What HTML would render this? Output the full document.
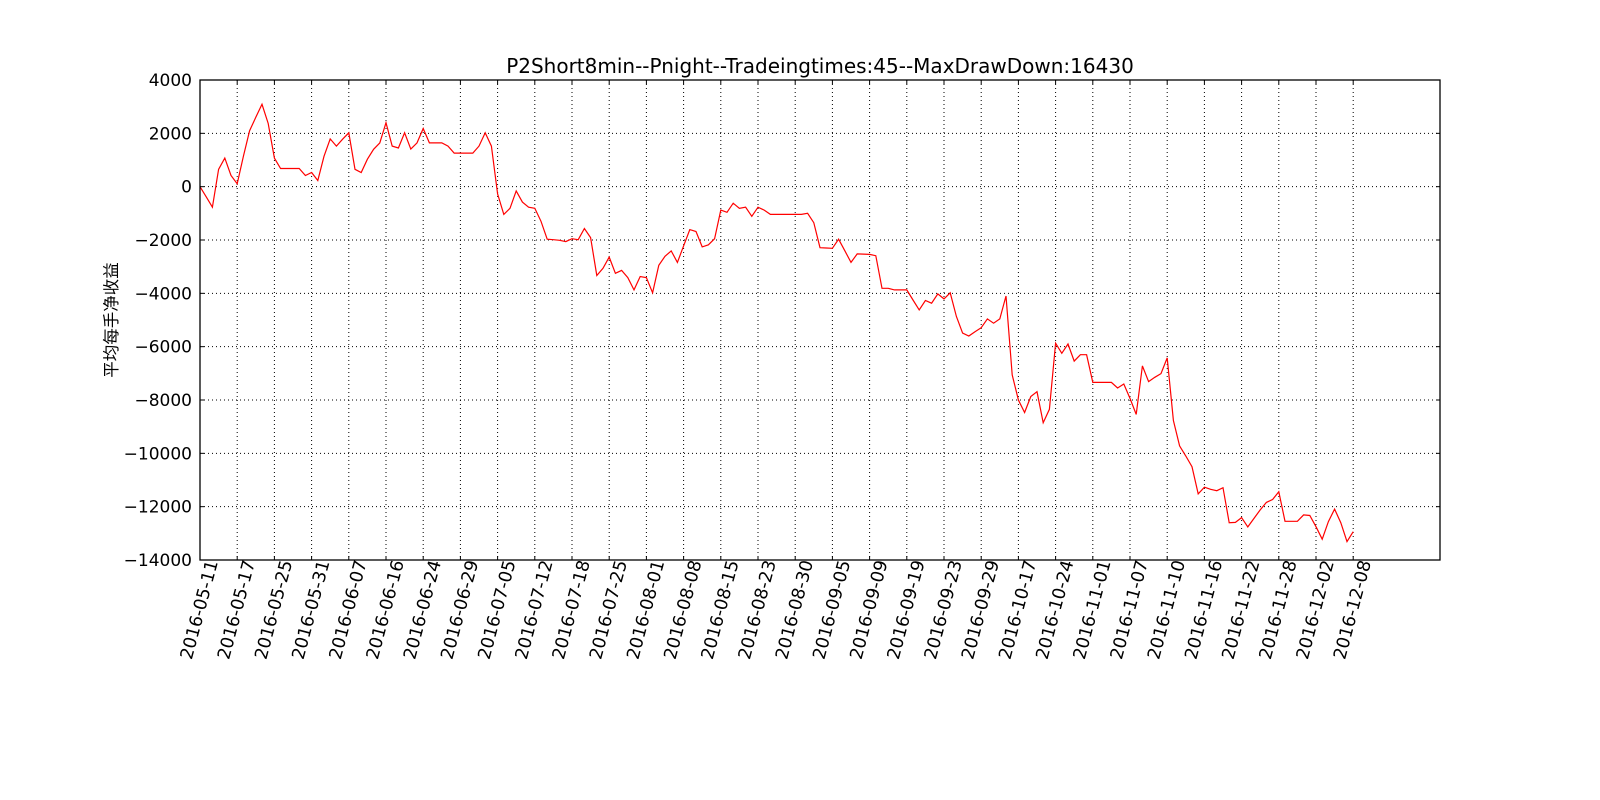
<!DOCTYPE html>
<html><head><meta charset="utf-8"><style>
html,body{margin:0;padding:0;background:#fff;}
svg{display:block;font-family:"DejaVu Sans","Liberation Sans","Noto Sans CJK SC",sans-serif;}
</style></head><body>
<svg id="chart" width="1600" height="800" viewBox="0 0 1600 800" xmlns="http://www.w3.org/2000/svg">
<rect width="1600" height="800" fill="#fff"/>
<text x="820" y="73" text-anchor="middle" font-size="20">P2Short8min--Pnight--Tradeingtimes:45--MaxDrawDown:16430</text>
<text transform="translate(117,320) rotate(-90)" text-anchor="middle" font-size="16.5" font-family="'Noto Sans CJK SC',sans-serif">平均每手净收益</text>
<g id="grid"></g>
<g id="series"></g>
<g id="axes"></g>
<rect x="200" y="80" width="1240" height="480" fill="none" stroke="#000" stroke-width="1.3"/>
</svg>
<script>
const xTickLabels = ["2016-05-11","2016-05-17","2016-05-25","2016-05-31","2016-06-07","2016-06-16","2016-06-24","2016-06-29","2016-07-05","2016-07-12","2016-07-18","2016-07-25","2016-08-01","2016-08-08","2016-08-15","2016-08-23","2016-08-30","2016-09-05","2016-09-09","2016-09-19","2016-09-23","2016-09-29","2016-10-17","2016-10-24","2016-11-01","2016-11-07","2016-11-10","2016-11-16","2016-11-22","2016-11-28","2016-12-02","2016-12-08"];
const yTicks = [4000,2000,0,-2000,-4000,-6000,-8000,-10000,-12000,-14000];
const profit = [
0,-380,-770,650,1070,420,110,1140,2100,2600,
3090,2370,1070,680,680,680,680,420,530,230,
1140,1790,1520,1780,2020,650,530,1030,1400,1640,
2400,1520,1450,2020,1410,1640,2180,1640,1640,1640,
1520,1260,1260,1260,1260,1520,2020,1520,-270,-1040,
-810,-160,-580,-770,-810,-1300,-1970,-1990,-2010,-2060,
-1950,-1990,-1570,-1910,-3330,-3060,-2640,-3250,-3140,-3410,
-3870,-3370,-3410,-3980,-2950,-2610,-2410,-2840,-2220,-1610,
-1680,-2260,-2180,-1950,-880,-960,-620,-810,-770,-1110,
-770,-880,-1040,-1040,-1040,-1040,-1040,-1040,-1000,-1350,
-2290,-2300,-2310,-1970,-2400,-2840,-2520,-2530,-2540,-2590,
-3810,-3810,-3870,-3870,-3870,-4250,-4620,-4270,-4370,-4020,
-4210,-3980,-4870,-5490,-5600,-5440,-5290,-4960,-5120,-4960,
-4100,-7060,-8000,-8470,-7870,-7690,-8850,-8350,-5870,-6250,
-5900,-6540,-6300,-6300,-7340,-7340,-7340,-7340,-7550,-7400,
-7940,-8540,-6720,-7310,-7150,-7010,-6420,-8770,-9720,-10100,
-10500,-11520,-11270,-11350,-11400,-11290,-12600,-12590,-12410,-12760,
-12440,-12120,-11840,-11730,-11440,-12550,-12550,-12550,-12310,-12330,
-12750,-13220,-12560,-12090,-12600,-13310,-12940];
const tickEvery = 6;

const NS="http://www.w3.org/2000/svg";
const L=200,R=1440,T=80,B=560,XMAX=200,YMIN=-14000,YMAX=4000;
const xs=i=>L+(R-L)*i/XMAX;
const ys=v=>T+(B-T)*(YMAX-v)/(YMAX-YMIN);
function mk(tag,attrs,parent){const e=document.createElementNS(NS,tag);for(const k in attrs)e.setAttribute(k,attrs[k]);parent.appendChild(e);return e;}
const grid=document.getElementById('grid'),axes=document.getElementById('axes'),series=document.getElementById('series');

yTicks.forEach(v=>{
  const y=ys(v);
  if(v!==YMAX&&v!==YMIN){const g=mk('line',{x1:L,x2:R,y1:y,y2:y,stroke:'#000','stroke-width':1,'stroke-dasharray':'1,3'},grid);
  
  }
  const t1=mk('line',{x1:L,x2:L+4,y1:y,y2:y,stroke:'#000'},axes);
  
  
  const t2=mk('line',{x1:R-4,x2:R,y1:y,y2:y,stroke:'#000'},axes);
  
  
  const lab=mk('text',{x:L-8,y:y+6,'text-anchor':'end','font-size':17},axes);
  lab.textContent=(v<0?'\u2212'+(-v):String(v));
  
  
});
xTickLabels.forEach((s,k)=>{
  const x=xs(k*tickEvery);
  if(k>0){const g=mk('line',{x1:x,x2:x,y1:T,y2:B,stroke:'#000','stroke-width':1,'stroke-dasharray':'1,3'},grid);
  
  }
  const t1=mk('line',{x1:x,x2:x,y1:B-4,y2:B,stroke:'#000'},axes);
  
  
  const t2=mk('line',{x1:x,x2:x,y1:T,y2:T+4,stroke:'#000'},axes);
  
  
  const lab=mk('text',{transform:`translate(${x},${B+50}) rotate(-75)`,'text-anchor':'middle','dominant-baseline':'central','font-size':17.5},axes);
  lab.textContent=s;
  
  
});
const pts=profit.map((v,i)=>xs(i).toFixed(1)+','+ys(v).toFixed(1)).join(' ');
const line=mk('polyline',{points:pts,fill:'none',stroke:'#ff0000','stroke-width':1.2,'stroke-linejoin':'miter'},series);


</script>
</body></html>
